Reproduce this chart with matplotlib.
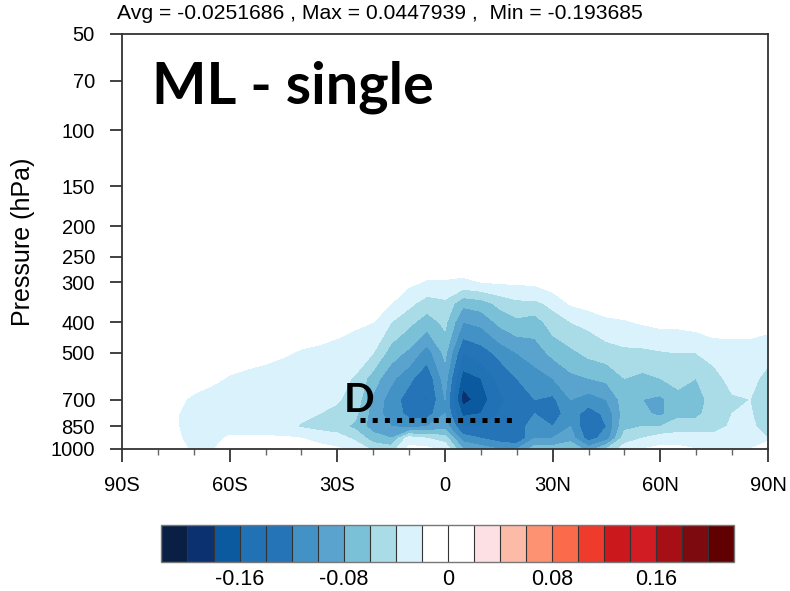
import matplotlib
matplotlib.use("Agg")
import matplotlib.pyplot as plt
import numpy as np
from matplotlib.colors import ListedColormap, BoundaryNorm
from matplotlib.cm import ScalarMappable
from matplotlib.ticker import NullLocator

plt.rcParams['font.family'] = ['Liberation Sans', 'DejaVu Sans']
plt.rcParams['axes.unicode_minus'] = False

# latitude grid (deg, S negative) and pressure levels (hPa)
lats = np.arange(-90, 91, 5)
plevs = [250, 300, 350, 400, 500, 600, 700, 775, 850, 925, 1000]

# field, one row per pressure level, lats -90..90
p250 = [0, 0, 0, 0, 0, 0, 0, 0, 0, 0, 0, 0, 0, 0, 0, 0, 0, -0.005, -0.005,
        -0.005, -0.003, 0, 0, 0, 0, 0, 0, 0, 0, 0, 0, 0, 0, 0, 0, 0, 0]
p300 = [0, 0, 0, 0, 0, 0, 0, 0, 0, 0, 0, 0, 0, 0, -0.003, -0.01, -0.016, -0.022, -0.022,
        -0.024, -0.02, -0.018, -0.017, -0.016, -0.008, -0.008, -0.005, -0.003, 0, 0,
        0, 0, 0, 0, 0, 0, 0]
p350 = [0, 0, 0, 0, 0, 0, 0, 0, 0, 0, 0, -0.003, -0.005, -0.008, -0.01, -0.02, -0.035,
        -0.05, -0.045, -0.075, -0.07, -0.055, -0.045, -0.045, -0.035, -0.018, -0.012,
        -0.008, -0.008, -0.005, -0.004, -0.004, -0.003, 0, 0, 0, -0.003]
p400 = [0, 0, 0, 0, 0, 0, 0, 0, -0.003, -0.005, -0.008, -0.01, -0.014, -0.017, -0.02,
        -0.04, -0.055, -0.07, -0.055, -0.1, -0.095, -0.075, -0.065, -0.07, -0.05, -0.04,
        -0.035, -0.025, -0.022, -0.018, -0.015, -0.015, -0.012, -0.006, -0.01, -0.01,
        -0.012]
p500 = [0, 0, 0, 0, 0, -0.003, -0.008, -0.012, -0.015, -0.018, -0.022, -0.024, -0.026,
        -0.03, -0.04, -0.07, -0.085, -0.11, -0.075, -0.14, -0.13, -0.115, -0.1, -0.09,
        -0.075, -0.065, -0.055, -0.05, -0.045, -0.045, -0.042, -0.04, -0.04, -0.035,
        -0.03, -0.03, -0.035]
p600 = [0, 0, 0, -0.005, -0.01, -0.015, -0.022, -0.025, -0.027, -0.03, -0.03, -0.032,
        -0.033, -0.042, -0.07, -0.095, -0.115, -0.135, -0.09, -0.17, -0.16, -0.135,
        -0.12, -0.11, -0.1, -0.085, -0.08, -0.075, -0.06, -0.065, -0.06, -0.055, -0.06,
        -0.045, -0.035, -0.035, -0.045]
p700 = [0, 0, 0, -0.015, -0.024, -0.03, -0.03, -0.03, -0.031, -0.032, -0.033, -0.035,
        -0.038, -0.048, -0.085, -0.11, -0.13, -0.142, -0.1, -0.19, -0.17, -0.145, -0.13,
        -0.12, -0.125, -0.1, -0.11, -0.1, -0.07, -0.08, -0.085, -0.065, -0.07, -0.05,
        -0.042, -0.04, -0.05]
p775 = [0, 0, -0.005, -0.018, -0.03, -0.031, -0.032, -0.032, -0.033, -0.034, -0.036,
        -0.04, -0.045, -0.055, -0.09, -0.11, -0.125, -0.13, -0.1, -0.165, -0.16, -0.14,
        -0.125, -0.12, -0.13, -0.11, -0.13, -0.115, -0.07, -0.075, -0.085, -0.065, -0.065,
        -0.05, -0.04, -0.038, -0.052]
p850 = [0, 0, -0.005, -0.018, -0.03, -0.03, -0.03, -0.03, -0.031, -0.035, -0.042, -0.048,
        -0.052, -0.065, -0.09, -0.1, -0.11, -0.1, -0.09, -0.14, -0.14, -0.13, -0.13,
        -0.11, -0.12, -0.1, -0.14, -0.12, -0.065, -0.06, -0.06, -0.05, -0.05, -0.045,
        -0.038, -0.035, -0.05]
p925 = [0, 0, -0.005, -0.016, -0.028, -0.027, -0.017, -0.017, -0.017, -0.017, -0.02,
        -0.025, -0.03, -0.045, -0.07, -0.08, -0.03, -0.04, -0.05, -0.11, -0.12, -0.13,
        -0.14, -0.1, -0.1, -0.09, -0.13, -0.11, -0.05, -0.04, -0.03, -0.03, -0.03, -0.035,
        -0.03, -0.028, -0.04]
p1000 = [0, 0, 0, -0.012, -0.024, -0.022, -0.008, -0.008, -0.008, -0.008, -0.012, -0.015,
         -0.018, -0.025, -0.045, -0.05, -0.015, -0.015, -0.025, -0.08, -0.09, -0.1, -0.1,
         -0.07, -0.07, -0.06, -0.09, -0.06, -0.03, -0.02, -0.015, -0.015, -0.02, -0.025,
         -0.025, -0.022, 0.03]

cmap_colors = ['#0a1f44', '#0b3170', '#0b5aa0', '#2171b5', '#2474b7', '#4292c6',
               '#5aa3cf', '#7ac1d8', '#a9dce6', '#d9f2fb', '#ffffff', '#ffffff',
               '#fde0e3', '#fcbba6', '#fc9272', '#fb6a4a', '#ef3b2c', '#cb181d',
               '#d01c22', '#a50f15', '#7c0a0f', '#600000']

xtick_vals = [-90, -60, -30, 0, 30, 60, 90]
xtick_labels = ['90S', '60S', '30S', '0', '30N', '60N', '90N']
ytick_vals = [50, 70, 100, 150, 200, 250, 300, 400, 500, 700, 850, 1000]
cb_ticks = [-0.16, -0.08, 0, 0.08, 0.16]
cb_labels = ['-0.16', '-0.08', '0', '0.08', '0.16']

field = np.array([p250, p300, p350, p400, p500, p600, p700, p775, p850, p925, p1000])
inner = np.round(np.arange(-0.20, 0.2001, 0.02), 2)
fill_levels = np.concatenate([[-1.0], inner, [1.0]])

fig = plt.figure(figsize=(7.9, 5.91), dpi=100)
ax = fig.add_axes([0.1544, 0.2403, 0.8177, 0.7022])

ax.contourf(lats, plevs, field, levels=fill_levels, colors=cmap_colors)

ax.set_yscale('log')
ax.set_ylim(1000, 50)
ax.set_xlim(-90, 90)
ax.set_yticks(ytick_vals)
ax.set_yticklabels([str(v) for v in ytick_vals])
ax.yaxis.set_minor_locator(NullLocator())
ax.set_xticks(xtick_vals)
ax.set_xticklabels(xtick_labels)
ax.set_xticks(np.arange(-80, 90, 10), minor=True)

edge = '#333333'
for s in ax.spines.values():
    s.set_color(edge)
    s.set_linewidth(1.3)
ax.tick_params(axis='both', which='major', direction='out', length=9, width=1.3,
               color=edge, labelsize=14.5, pad=10.5)
ax.tick_params(axis='x', which='minor', direction='out', length=4.5, width=1.0, color='#666666')

ax.set_ylabel('Pressure (hPa)', fontsize=18)
ax.yaxis.set_label_coords(-0.134, 0.5)

fig.text(0.148, 0.968, 'Avg = -0.0251686 , Max = 0.0447939 ,  Min = -0.193685',
         fontsize=15.2, va='baseline', ha='left')

# annotations added on top of the panel
fig.text(152 / 790, 1 - 103 / 591, 'ML - single', fontsize=41.5, fontweight='bold',
         family=['Lato', 'DejaVu Sans'], va='baseline', ha='left')
fig.text(344 / 790, 1 - 412 / 591, 'D', fontsize=29, fontweight='bold',
         family=['Lato', 'DejaVu Sans'], va='baseline', ha='left')
ax.plot([-23.7, 20.1], [811, 811], color='black', lw=3.6, linestyle=(0, (1, 1.44)),
        solid_capstyle='butt', dash_capstyle='butt')

cax = fig.add_axes([0.2044, 0.0491, 0.7247, 0.0626])
cb_bounds = np.round(np.arange(-0.22, 0.2201, 0.02), 2)
sm = ScalarMappable(norm=BoundaryNorm(cb_bounds, len(cmap_colors)),
                    cmap=ListedColormap(cmap_colors))
cb = fig.colorbar(sm, cax=cax, orientation='horizontal', drawedges=True,
                  ticks=cb_ticks)
cb.ax.minorticks_off()
cb.ax.set_xticklabels(cb_labels)
cb.ax.tick_params(which='both', length=0, labelsize=15.5, pad=5)
cb.outline.set_edgecolor('#777777')
cb.outline.set_linewidth(1.0)
cb.dividers.set_color('#333333')
cb.dividers.set_linewidth(0.8)

fig.savefig('out.png', dpi=100)
